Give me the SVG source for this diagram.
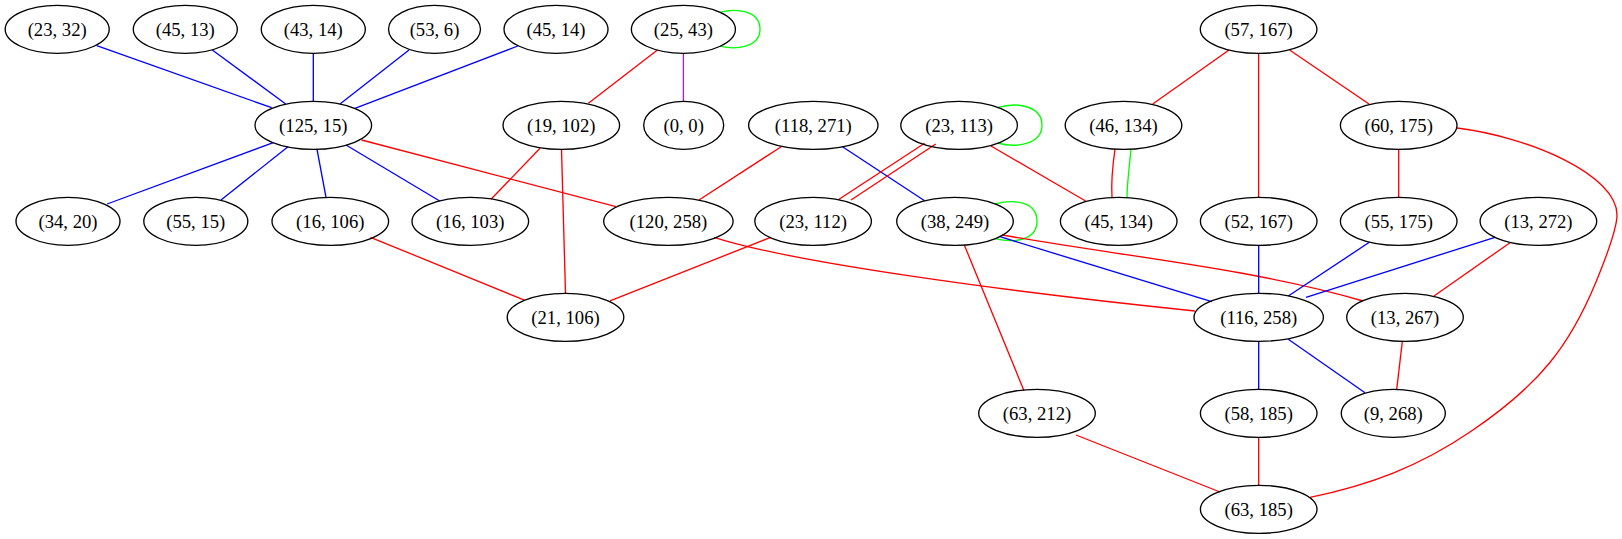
<svg xmlns="http://www.w3.org/2000/svg" width="1622" height="539" viewBox="0 0 1622 539">
<style>
.n ellipse{fill:none;stroke:#000;stroke-width:1.33}
.n text{font-family:"Liberation Serif","Times New Roman",serif;font-size:18.67px;text-anchor:middle;fill:#000}
#edges path{fill:none;stroke-width:1.33}
.b{stroke:#0000ff}.r{stroke:#ff0000}.g{stroke:#00ff00}.p{stroke:#a020f0}
</style>
<rect width="1622" height="539" fill="#fff"/>
<g id="edges">
<path class="b" d="M96.7,45.7 L271.7,107.7"/>
<path class="b" d="M212.3,50 L285.7,104"/>
<path class="b" d="M313.3,53.3 L313.3,101"/>
<path class="b" d="M409,50 L340,104"/>
<path class="b" d="M517.8,46 L354.9,108.3"/>
<path class="b" d="M273.2,142.7 L107.1,204"/>
<path class="b" d="M288,146.7 L221,200"/>
<path class="b" d="M317,149.3 L326,197.3"/>
<path class="b" d="M346,145 L439.7,201"/>
<path class="r" d="M361.6,140 L616,206.7"/>
<path class="g" d="M720,12.4 C735,8 760,10 760,29.3 C760,48 735,50 720,46.2"/>
<path class="p" d="M683.4,53.3 L683.4,101.3"/>
<path class="r" d="M657.4,50 L588.4,103.3"/>
<path class="r" d="M540,148.3 L491,199.3"/>
<path class="r" d="M561.5,149.3 L565.5,293.3"/>
<path class="r" d="M781.2,146.7 L699,200"/>
<path class="b" d="M842.5,146.7 L924.6,200.7"/>
<path class="g" d="M997.6,107.7 C1015,102 1042,105 1042,125.3 C1042,145 1015,148 997.6,143"/>
<path class="r" d="M924.6,143.3 L837.9,200"/>
<path class="r" d="M935.7,144 L851,200"/>
<path class="r" d="M991,146 L1085.6,201"/>
<path class="r" d="M1115,149 C1112,170 1111,182 1112,197.3"/>
<path class="g" d="M1131,149 C1129,170 1127,185 1127,197.3"/>
<path class="r" d="M1229,50 L1152.7,104"/>
<path class="r" d="M1258.6,53.3 L1258.6,197.3"/>
<path class="r" d="M1289.6,50 L1369,104"/>
<path class="r" d="M1398.7,149.3 L1398.7,197.3"/>
<path class="r" d="M1457,128 C1530,137 1617,175 1617,215 C1617,230 1605,260 1596,282 C1570,345 1540,385 1470,432 C1420,466 1370,485 1310,497.3"/>
<path class="r" d="M370.5,237.3 L524.4,300.2"/>
<path class="r" d="M714,237.3 C790,262 1000,291 1195,311"/>
<path class="r" d="M770.8,237.3 L610,300.9"/>
<path class="g" d="M995,204 C1013,199 1037,201 1037,221.3 C1037,241 1013,243 995,238.7"/>
<path class="b" d="M1000,236.7 L1211.7,301.7"/>
<path class="r" d="M1002,235 C1120,256 1250,268 1363,301"/>
<path class="r" d="M964.3,245 L1024,390.7"/>
<path class="b" d="M1258.7,245.3 L1258.7,293.3"/>
<path class="b" d="M1369.3,242.3 L1288.3,296"/>
<path class="b" d="M1495,237.3 L1306,297.3"/>
<path class="r" d="M1510,242.7 L1434,296"/>
<path class="b" d="M1258.7,341.3 L1258.7,389.3"/>
<path class="b" d="M1288.3,339.3 L1365,392.7"/>
<path class="r" d="M1402.3,341.7 L1396.7,389.3"/>
<path class="r" d="M1258.7,437.3 L1258.7,485.3"/>
<path class="r" d="M1076,435 L1220,492"/>
</g>
<g id="n_23_32" class="n"><ellipse cx="57.2" cy="29.3" rx="52" ry="24"/><text x="57.2" y="35.8">(23, 32)</text></g>
<g id="n_45_13" class="n"><ellipse cx="185.3" cy="29.3" rx="52" ry="24"/><text x="185.3" y="35.8">(45, 13)</text></g>
<g id="n_43_14" class="n"><ellipse cx="313.3" cy="29.3" rx="52" ry="24"/><text x="313.3" y="35.8">(43, 14)</text></g>
<g id="n_53_6" class="n"><ellipse cx="434.5" cy="29.3" rx="46" ry="24"/><text x="434.5" y="35.8">(53, 6)</text></g>
<g id="n_45_14" class="n"><ellipse cx="556" cy="29.3" rx="52" ry="24"/><text x="556" y="35.8">(45, 14)</text></g>
<g id="n_25_43" class="n"><ellipse cx="683.4" cy="29.3" rx="52" ry="24"/><text x="683.4" y="35.8">(25, 43)</text></g>
<g id="n_57_167" class="n"><ellipse cx="1258.6" cy="29.3" rx="58.3" ry="24"/><text x="1258.6" y="35.8">(57, 167)</text></g>
<g id="n_125_15" class="n"><ellipse cx="313.3" cy="125.3" rx="58.3" ry="24"/><text x="313.3" y="131.8">(125, 15)</text></g>
<g id="n_19_102" class="n"><ellipse cx="561.3" cy="125.3" rx="58.3" ry="24"/><text x="561.3" y="131.8">(19, 102)</text></g>
<g id="n_0_0" class="n"><ellipse cx="683.7" cy="125.3" rx="40" ry="24"/><text x="683.7" y="131.8">(0, 0)</text></g>
<g id="n_118_271" class="n"><ellipse cx="813.3" cy="125.3" rx="64.7" ry="24"/><text x="813.3" y="131.8">(118, 271)</text></g>
<g id="n_23_113" class="n"><ellipse cx="959.1" cy="125.3" rx="58.3" ry="24"/><text x="959.1" y="131.8">(23, 113)</text></g>
<g id="n_46_134" class="n"><ellipse cx="1123.5" cy="125.3" rx="58.3" ry="24"/><text x="1123.5" y="131.8">(46, 134)</text></g>
<g id="n_60_175" class="n"><ellipse cx="1398.7" cy="125.3" rx="58.3" ry="24"/><text x="1398.7" y="131.8">(60, 175)</text></g>
<g id="n_34_20" class="n"><ellipse cx="68" cy="221.3" rx="52" ry="24"/><text x="68" y="227.8">(34, 20)</text></g>
<g id="n_55_15" class="n"><ellipse cx="195.8" cy="221.3" rx="52" ry="24"/><text x="195.8" y="227.8">(55, 15)</text></g>
<g id="n_16_106" class="n"><ellipse cx="330.3" cy="221.3" rx="58.3" ry="24"/><text x="330.3" y="227.8">(16, 106)</text></g>
<g id="n_16_103" class="n"><ellipse cx="470.3" cy="221.3" rx="58.3" ry="24"/><text x="470.3" y="227.8">(16, 103)</text></g>
<g id="n_120_258" class="n"><ellipse cx="668.4" cy="221.3" rx="64.7" ry="24"/><text x="668.4" y="227.8">(120, 258)</text></g>
<g id="n_23_112" class="n"><ellipse cx="813.1" cy="221.3" rx="58.3" ry="24"/><text x="813.1" y="227.8">(23, 112)</text></g>
<g id="n_38_249" class="n"><ellipse cx="955" cy="221.3" rx="58.3" ry="24"/><text x="955" y="227.8">(38, 249)</text></g>
<g id="n_45_134" class="n"><ellipse cx="1118.7" cy="221.3" rx="58.3" ry="24"/><text x="1118.7" y="227.8">(45, 134)</text></g>
<g id="n_52_167" class="n"><ellipse cx="1258.7" cy="221.3" rx="58.3" ry="24"/><text x="1258.7" y="227.8">(52, 167)</text></g>
<g id="n_55_175" class="n"><ellipse cx="1398.7" cy="221.3" rx="58.3" ry="24"/><text x="1398.7" y="227.8">(55, 175)</text></g>
<g id="n_13_272" class="n"><ellipse cx="1538.4" cy="221.3" rx="58.3" ry="24"/><text x="1538.4" y="227.8">(13, 272)</text></g>
<g id="n_21_106" class="n"><ellipse cx="565.5" cy="317.3" rx="58.3" ry="24"/><text x="565.5" y="323.8">(21, 106)</text></g>
<g id="n_116_258" class="n"><ellipse cx="1258.7" cy="317.3" rx="64.7" ry="24"/><text x="1258.7" y="323.8">(116, 258)</text></g>
<g id="n_13_267" class="n"><ellipse cx="1405" cy="317.3" rx="58.3" ry="24"/><text x="1405" y="323.8">(13, 267)</text></g>
<g id="n_63_212" class="n"><ellipse cx="1037" cy="413.3" rx="58.3" ry="24"/><text x="1037" y="419.8">(63, 212)</text></g>
<g id="n_58_185" class="n"><ellipse cx="1258.7" cy="413.3" rx="58.3" ry="24"/><text x="1258.7" y="419.8">(58, 185)</text></g>
<g id="n_9_268" class="n"><ellipse cx="1393.3" cy="413.3" rx="52" ry="24"/><text x="1393.3" y="419.8">(9, 268)</text></g>
<g id="n_63_185" class="n"><ellipse cx="1258.7" cy="509.3" rx="58.3" ry="24"/><text x="1258.7" y="515.8">(63, 185)</text></g>
</svg>
